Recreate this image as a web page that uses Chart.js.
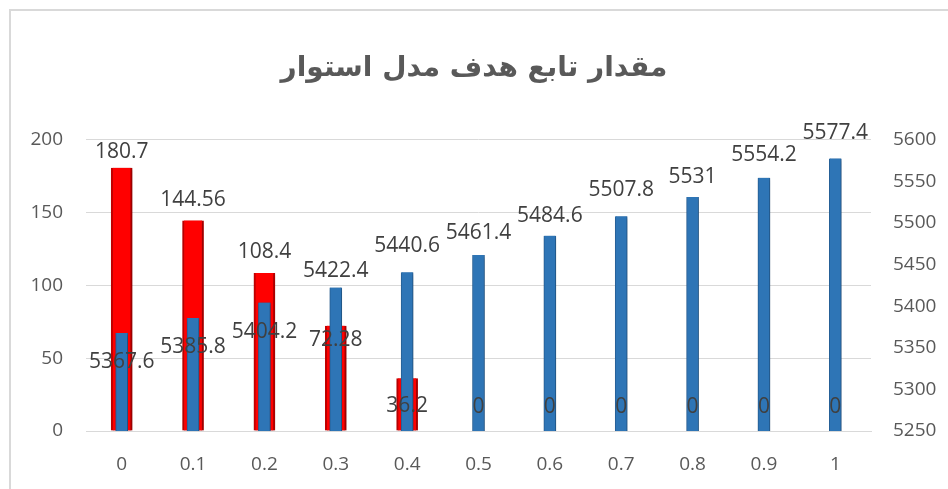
<!DOCTYPE html>
<html>
<head>
<meta charset="utf-8">
<script src="https://cdn.jsdelivr.net/npm/chart.js@4/dist/chart.umd.min.js"></script>
<style>
  html, body { margin: 0; padding: 0; background: #fff; }
  #wrap { position: relative; width: 948px; height: 489px; overflow: hidden; }
  #frame { position: absolute; left: 9px; top: 9px; right: -5px; bottom: -5px;
           border-left: 2px solid #D9D9D9; border-top: 2px solid #D9D9D9; pointer-events: none; }
</style>
</head>
<body>
<div id="wrap">
  <canvas id="chart" width="948" height="489"></canvas>
  <div id="frame"></div>
</div>
<script>
const titleText = 'مقدار تابع هدف مدل استوار';
const categories = ['0', '0.1', '0.2', '0.3', '0.4', '0.5', '0.6', '0.7', '0.8', '0.9', '1'];
const redValues = [180.7, 144.56, 108.4, 72.28, 36.2, 0, 0, 0, 0, 0, 0];
const blueValues = [5367.6, 5385.8, 5404.2, 5422.4, 5440.6, 5461.4, 5484.6, 5507.8, 5531, 5554.2, 5577.4];

// vertical offset of each data label from its bar top (px), like Excel's auto placement
const redLabelOffsets = [-16, -20, -21, 14, 28, -24, -24, -24, -24, -24, -24];
const blueLabelOffsets = [29, 29, 29, -16, -26, -22, -20, -26, -20, -23, -25];

// soft shadow under the bars, then the data labels on top
const labelsPlugin = {
  id: 'barLabels',
  beforeDatasetsDraw(chart) {
    const ctx = chart.ctx;
    ctx.save();
    ctx.shadowColor = 'rgba(0,0,0,0.35)';
    ctx.shadowBlur = 4;
    ctx.shadowOffsetX = 1;
    ctx.shadowOffsetY = 1;
  },
  afterDatasetsDraw(chart) {
    const ctx = chart.ctx;
    ctx.restore();
    ctx.save();
    ctx.font = '21px "Open Sans", sans-serif';
    ctx.fillStyle = '#404040';
    ctx.textAlign = 'center';
    ctx.textBaseline = 'middle';
    chart.data.datasets.forEach((ds, i) => {
      const meta = chart.getDatasetMeta(i);
      meta.data.forEach((bar, j) => {
        const off = ds.labelOffsets[j];
        ctx.fillText(String(ds.data[j]), bar.x, bar.y + off);
      });
    });
    ctx.restore();
  }
};

const tickFont = { family: '"Open Sans", sans-serif', size: 19 };

const ctx = document.getElementById('chart').getContext('2d');
new Chart(ctx, {
  type: 'bar',
  data: {
    labels: categories,
    datasets: [
      {
        label: 'blue',
        data: blueValues,
        labelOffsets: blueLabelOffsets,
        yAxisID: 'y2',
        backgroundColor: '#2E75B6',
        borderColor: '#2A6AA6',
        borderWidth: { left: 1, right: 1, top: 0, bottom: 0 },
        borderSkipped: false,
        barThickness: 12,
        grouped: false
      },
      {
        label: 'red',
        data: redValues,
        labelOffsets: redLabelOffsets,
        yAxisID: 'y',
        backgroundColor: '#FF0000',
        borderColor: '#C80000',
        borderWidth: { left: 2, right: 2, top: 0, bottom: 0 },
        borderSkipped: false,
        barThickness: 21,
        grouped: false
      }
    ]
  },
  options: {
    responsive: false,
    animation: false,
    layout: { padding: 0 },
    plugins: {
      legend: { display: false },
      tooltip: { enabled: false },
      title: {
        display: true,
        text: titleText,
        color: '#595959',
        font: { family: '"DejaVu Sans", sans-serif', size: 28, weight: 'bold' },
        padding: { top: 52, bottom: 54 }
      }
    },
    scales: {
      x: {
        grid: { display: false, drawTicks: false },
        border: { display: true, color: '#D9D9D9', width: 1 },
        ticks: { color: '#595959', font: tickFont, padding: 22 },
        afterFit(scale) { scale.height = 58; }
      },
      y: {
        position: 'left',
        min: 0,
        max: 200,
        ticks: { stepSize: 50, color: '#595959', font: tickFont, padding: 23 },
        grid: { color: '#D9D9D9', drawTicks: false },
        border: { display: false },
        afterFit(scale) { scale.width = 86; }
      },
      y2: {
        position: 'right',
        min: 5250,
        max: 5600,
        ticks: {
          stepSize: 50, color: '#595959', font: tickFont, padding: 22,
          callback: v => String(v)
        },
        grid: { display: false, drawTicks: false },
        border: { display: false },
        afterFit(scale) { scale.width = 77; }
      }
    }
  },
  plugins: [labelsPlugin]
});
</script>
</body>
</html>
